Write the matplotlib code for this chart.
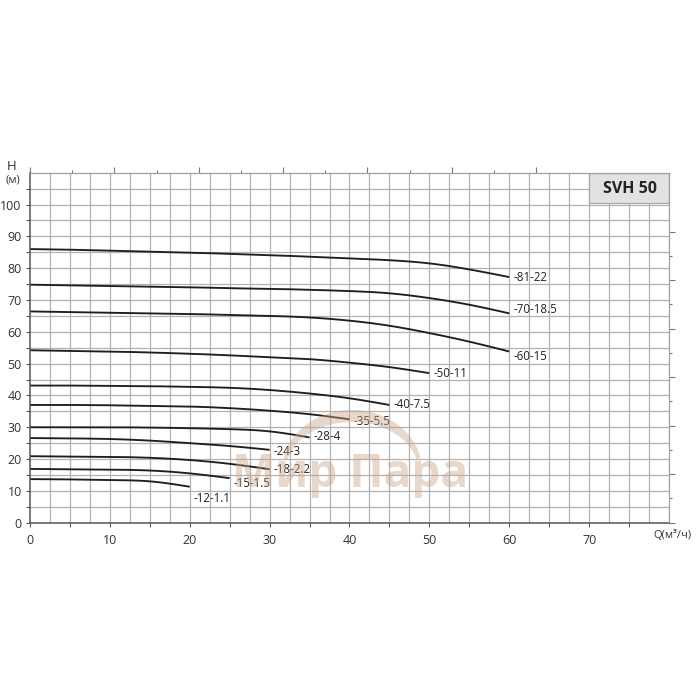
import numpy as np
import matplotlib
matplotlib.use("Agg")
import matplotlib.pyplot as plt
from matplotlib.patches import Rectangle, Polygon

plt.rcParams['font.family'] = ['Open Sans', 'DejaVu Sans']

# ---------------- data ----------------
curve_names = ["-81-22", "-70-18.5", "-60-15", "-50-11", "-40-7.5", "-35-5.5",
               "-28-4", "-24-3", "-18-2.2", "-15-1.5", "-12-1.1"]

q81 = [0, 5, 10, 15, 20, 25, 30, 35, 40, 45, 50, 55, 60]
h81 = [86.0, 85.8, 85.5, 85.2, 84.9, 84.5, 84.1, 83.6, 83.1, 82.5, 81.5, 79.6, 77.2]
q70 = [0, 5, 10, 15, 20, 25, 30, 35, 40, 45, 50, 55, 60]
h70 = [74.8, 74.6, 74.4, 74.2, 74.0, 73.7, 73.5, 73.2, 72.8, 72.1, 70.6, 68.5, 65.8]
q60 = [0, 5, 10, 15, 20, 25, 30, 35, 40, 45, 50, 55, 60]
h60 = [66.4, 66.2, 66.0, 65.8, 65.6, 65.3, 65.0, 64.5, 63.5, 61.9, 59.6, 56.9, 53.8]
q50 = [0, 5, 10, 15, 20, 25, 30, 35, 40, 45, 50]
h50 = [54.2, 54.0, 53.8, 53.5, 53.1, 52.6, 52.0, 51.4, 50.3, 48.9, 47.0]
q40 = [0, 5, 10, 15, 20, 25, 30, 35, 40, 45]
h40 = [43.1, 43.1, 43.0, 42.9, 42.7, 42.4, 41.7, 40.6, 39.1, 37.0]
q35 = [0, 5, 10, 15, 20, 25, 30, 35, 40]
h35 = [37.0, 37.0, 36.9, 36.7, 36.5, 36.0, 35.2, 34.1, 32.5]
q28 = [0, 5, 10, 15, 20, 25, 30, 35]
h28 = [30.0, 30.0, 30.0, 29.9, 29.7, 29.4, 28.7, 26.8]
q24 = [0, 5, 10, 15, 20, 25, 30]
h24 = [26.6, 26.5, 26.3, 25.8, 25.0, 24.1, 22.9]
q18 = [0, 5, 10, 15, 20, 25, 30]
h18 = [20.9, 20.8, 20.7, 20.4, 19.7, 18.5, 16.8]
q15 = [0, 5, 10, 15, 20, 25]
h15 = [16.9, 16.8, 16.7, 16.4, 15.5, 14.0]
q12 = [0, 5, 10, 15, 20]
h12 = [13.7, 13.6, 13.4, 13.0, 11.3]

curve_q = [q81, q70, q60, q50, q40, q35, q28, q24, q18, q15, q12]
curve_h = [h81, h70, h60, h50, h40, h35, h28, h24, h18, h15, h12]

x_ticks = [0, 10, 20, 30, 40, 50, 60, 70]
y_ticks = [0, 10, 20, 30, 40, 50, 60, 70, 80, 90, 100]
title_text = "SVH 50"
watermark = "Мир Пара"

# label vertical offsets (pixels, positive = down) -- style only
label_dy = [0, -4, 5, 0, 0, 2, -1, 2, 0, 5, 12]


def smooth_path(x, y, n=200):
    """Natural cubic spline through the given points (drawing only)."""
    x = np.asarray(x, float)
    y = np.asarray(y, float)
    m = len(x)
    hh = np.diff(x)
    A = np.zeros((m, m))
    rhs = np.zeros(m)
    A[0, 0] = A[-1, -1] = 1
    for i in range(1, m - 1):
        A[i, i - 1] = hh[i - 1]
        A[i, i] = 2 * (hh[i - 1] + hh[i])
        A[i, i + 1] = hh[i]
        rhs[i] = 6 * ((y[i + 1] - y[i]) / hh[i] - (y[i] - y[i - 1]) / hh[i - 1])
    M = np.linalg.solve(A, rhs)
    xs = np.linspace(x[0], x[-1], n)
    idx = np.clip(np.searchsorted(x, xs) - 1, 0, m - 2)
    x0, x1 = x[idx], x[idx + 1]
    h_ = x1 - x0
    a = (x1 - xs) / h_
    b = (xs - x0) / h_
    ys = (a * y[idx] + b * y[idx + 1]
          + ((a ** 3 - a) * M[idx] + (b ** 3 - b) * M[idx + 1]) * h_ ** 2 / 6)
    return xs, ys


# ---------------- figure ----------------
W = H = 700
fig = plt.figure(figsize=(7, 7), dpi=100)
L, R, B, T = 30, 669, 522.7, 172.7
ax = fig.add_axes([L / W, 1 - B / H, (R - L) / W, (B - T) / H])
ax.set_xlim(0, 80)
ax.set_ylim(0, 110)

grid_c = "#b2b2b2"
for gx in np.arange(2.5, 80, 2.5):
    ax.axvline(gx, color=grid_c, lw=0.9, zorder=1)
for gy in np.arange(5, 110, 5):
    ax.axhline(gy, color=grid_c, lw=0.9, zorder=1)

# curves and labels
for name, q, h, dy in zip(curve_names, curve_q, curve_h, label_dy):
    xs, ys = smooth_path(q, h)
    ax.plot(xs, ys, color="#1e1e1e", lw=1.35, zorder=3, solid_capstyle="butt")
    ax.annotate(name, xy=(q[-1], h[-1]), xytext=(3, -dy * 0.72),
                textcoords="offset points", ha="left", va="center",
                fontsize=8.3, color="#222222", zorder=4)

# title box
ax.add_patch(Rectangle((70, 100.5), 10, 9.5, facecolor="#e2e2e2",
                       edgecolor="#a8a8a8", lw=0.9, zorder=5))
ax.text(75.1, 105.0, title_text, ha="center", va="center", fontsize=11.5,
        fontweight="bold", color="#222222", zorder=6)

# spines
for s in ["left", "bottom"]:
    ax.spines[s].set_color("#555555")
    ax.spines[s].set_linewidth(1.1)
for s in ["top", "right"]:
    ax.spines[s].set_color("#a0a0a0")
    ax.spines[s].set_linewidth(0.9)
for sp in ax.spines.values():
    sp.set_zorder(7)

ax.set_xticks(x_ticks)
ax.set_yticks(y_ticks)
ax.set_xticks(np.arange(5, 80, 10), minor=True)
ax.set_yticks(np.arange(5, 110, 10), minor=True)
ax.tick_params(axis="both", which="major", length=3, width=0.8, color="#555555",
               labelsize=9, labelcolor="#333333", pad=3)
ax.tick_params(axis="both", which="minor", length=3, width=0.8, color="#555555")
ax.tick_params(axis="x", pad=5)

# secondary scales (ticks only)
top = ax.secondary_xaxis("top", functions=(lambda q: q / 5.28 * 20, lambda u: u * 5.28 / 20))
top.set_xticks(np.arange(0, 241, 40))
top.set_xticks(np.arange(20, 240, 40), minor=True)
top.tick_params(which="major", length=4, width=0.8, color="#777777", labeltop=False)
top.tick_params(which="minor", length=2, width=0.8, color="#777777")
top.spines["top"].set_visible(False)
top.set_xticklabels([])

right = ax.secondary_yaxis("right", functions=(lambda m: m / 0.3048, lambda f: f * 0.3048))
right.set_yticks(np.arange(0, 301, 50))
right.set_yticks(np.arange(25, 300, 50), minor=True)
right.tick_params(which="major", length=4, width=0.8, color="#777777", labelright=False)
right.tick_params(which="minor", length=2, width=0.8, color="#777777")
right.spines["right"].set_visible(False)
right.set_yticklabels([])

# axis captions
fig.text(12 / W, 1 - 167 / H, "H", ha="center", va="center", fontsize=9.5, color="#333333")
fig.text(13 / W, 1 - 180 / H, "(м)", ha="center", va="center", fontsize=8, color="#333333")
fig.text(672 / W, 1 - 536 / H, "Q(м³/ч)", ha="center", va="center", fontsize=8, color="#333333")

# watermark (decoration, figure pixel coordinates)
wm_col = (0.80, 0.66, 0.55)
th = np.linspace(np.radians(168), np.radians(12), 80)
outer = np.column_stack([352 + 70 * np.cos(th), 470 - 60 * np.sin(th)])
th2 = th[::-1]
inner = np.column_stack([352 + 66 * np.cos(th2), 470 - 48 * np.sin(th2)])
pts = np.vstack([outer, inner])
pts_fig = np.column_stack([pts[:, 0] / W, 1 - pts[:, 1] / H])
fig.patches.append(Polygon(pts_fig, closed=True, transform=fig.transFigure,
                           facecolor=wm_col, edgecolor="none", alpha=0.45, zorder=8))
fig.text(350 / W, 1 - 474 / H, watermark, ha="center", va="center", fontsize=33,
         fontweight="bold", color=wm_col, alpha=0.45, family=["Open Sans", "DejaVu Sans"],
         zorder=8)

fig.savefig("out.png", dpi=100, facecolor="white")
